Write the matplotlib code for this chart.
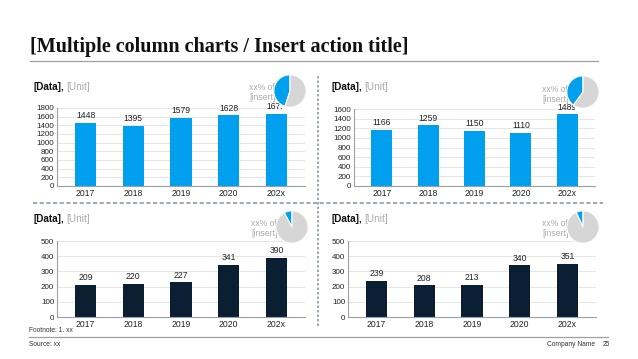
import matplotlib.pyplot as plt
from matplotlib.lines import Line2D
from matplotlib.patches import Rectangle

plt.rcParams['font.family'] = ['Liberation Sans', 'DejaVu Sans']

# data
years = ['2017', '2018', '2019', '2020', '202x']
vals_1 = [1448, 1395, 1579, 1628, 1671]
vals_2 = [1166, 1259, 1150, 1110, 1489]
vals_3 = [209, 220, 227, 341, 390]
vals_4 = [239, 208, 213, 340, 351]
share = [0.45, 0.40, 0.08, 0.07]  # pie shares (blue part)
ymax = [1800, 1600, 500, 500]
ystep = [200, 200, 100, 100]

BLUE = '#00A0EE'
NAVY = '#0B1F33'
GREY = '#D6D6D6'
W, H = 638, 359

fig = plt.figure(figsize=(W / 100, H / 100), dpi=100)


def rect(x0, y0, x1, y1):
    return [x0 / W, 1 - y1 / H, (x1 - x0) / W, (y1 - y0) / H]


def hline(x0, x1, y, **kw):
    fig.add_artist(Line2D([x0 / W, x1 / W], [1 - y / H, 1 - y / H], **kw))


def vline(x, y0, y1, **kw):
    fig.add_artist(Line2D([x / W, x / W], [1 - y0 / H, 1 - y1 / H], **kw))


# title + rules
fig.text(30 / W, 1 - 47 / H, '[Multiple column charts / Insert action title]',
         family='Liberation Serif', fontweight='bold', fontsize=14.5,
         va='center', ha='left', color='#111111')
hline(30, 598, 61, color='#A0A0A0', lw=0.9)
vline(318, 76, 326, color='#8A9BB0', lw=1.2, ls=(0, (1.5, 1.2)))
hline(33, 603, 203, color='#8A9BB0', lw=1.2, ls=(0, (2.5, 1.5)))
hline(29, 608, 337, color='#A0A0A0', lw=0.9)

fig.text(29 / W, 1 - 331 / H, 'Footnote: 1. xx', fontsize=4.8, va='center', color='#333333')
fig.text(29 / W, 1 - 345 / H, 'Source: xx', fontsize=4.8, va='center', color='#333333')
fig.text(547 / W, 1 - 345 / H, 'Company Name', fontsize=4.8, va='center', color='#333333')
fig.text(603 / W, 1 - 345 / H, '25', fontsize=4.8, va='center', color='#333333')

panels = [
    (vals_1, BLUE, (57, 108, 305, 186), (33, 87), (290, 91)),
    (vals_2, BLUE, (354, 109, 595, 186), (331, 87), (583, 92)),
    (vals_3, NAVY, (57, 241, 305, 317), (33, 219), (292, 227)),
    (vals_4, NAVY, (348, 241, 596, 317), (331, 219), (583, 227)),
]

for i, (vals, col, box, lab, pie_c) in enumerate(panels):
    ax = fig.add_axes(rect(*box))
    x = range(len(years))
    bars = ax.bar(x, vals, width=0.45, color=col, zorder=2)
    ax.bar_label(bars, labels=[str(v) for v in vals], padding=2, fontsize=6.2, color='#222222')
    ax.set_xlim(-0.6, len(years) - 0.4)
    ax.set_ylim(0, ymax[i])
    ax.set_yticks(range(0, ymax[i] + 1, ystep[i]))
    ax.set_xticks(list(x))
    ax.set_xticklabels(years)
    ax.tick_params(axis='x', labelsize=6.2, length=0, pad=2, colors='#222222')
    ax.tick_params(axis='y', labelsize=5.8, length=0, pad=2, colors='#222222')
    ax.yaxis.grid(True, color='#E6E6E6', lw=0.7, zorder=0)
    for s in ['top', 'right']:
        ax.spines[s].set_visible(False)
    for s in ['left', 'bottom']:
        ax.spines[s].set_color('#9AA0A6')
        ax.spines[s].set_linewidth(0.8)

    fig.text(lab[0] / W, 1 - lab[1] / H, '[Data],', fontsize=7.2, fontweight='bold',
             va='center', ha='left', color='#111111')
    fig.text((lab[0] + 33) / W, 1 - lab[1] / H, '[Unit]', fontsize=7.2,
             va='center', ha='left', color='#AAAAAA')

    # small share pie + label (pie and its white box sit over the label ends)
    fig.text((pie_c[0] - 41) / W, 1 - (pie_c[1] - 3) / H, 'xx% of', fontsize=6.2,
             va='center', ha='left', color='#AAAAAA', zorder=1)
    fig.text((pie_c[0] - 41) / W, 1 - (pie_c[1] + 7) / H, '[insert]', fontsize=6.2,
             va='center', ha='left', color='#AAAAAA', zorder=1)
    r = 16.5
    fig.add_artist(Rectangle(((pie_c[0] - 8) / W, 1 - (pie_c[1] + r + 3) / H),
                             (r + 10) / W, (r + 3) / H, transform=fig.transFigure,
                             facecolor='white', edgecolor='none', zorder=4))
    pax = fig.add_axes(rect(pie_c[0] - r, pie_c[1] - r, pie_c[0] + r, pie_c[1] + r))
    pax.set_zorder(5)
    pax.pie([share[i], 1 - share[i]], colors=[BLUE, GREY], startangle=90,
            counterclock=True, radius=1,
            wedgeprops=dict(edgecolor='white', linewidth=0.8))
    pax.set_xlim(-1.02, 1.02)
    pax.set_ylim(-1.02, 1.02)
    pax.set_aspect('equal')
    pax.axis('off')

fig.savefig('out.png', dpi=100)
